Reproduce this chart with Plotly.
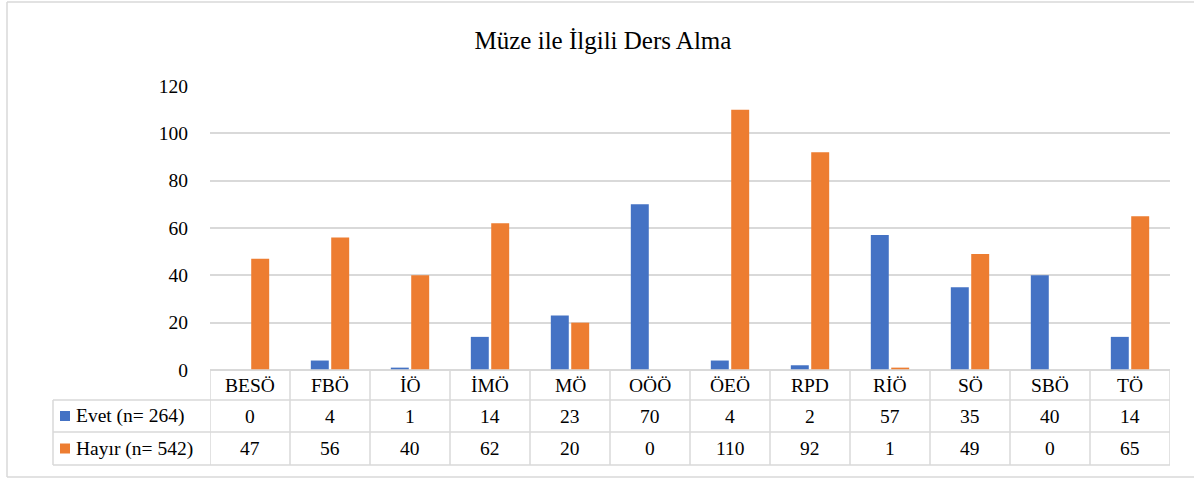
import plotly.graph_objects as go

title = "Müze ile İlgili Ders Alma"
categories = ["BESÖ", "FBÖ", "İÖ", "İMÖ", "MÖ", "OÖÖ", "ÖEÖ", "RPD", "RİÖ", "SÖ", "SBÖ", "TÖ"]
series_names = ["Evet (n= 264)", "Hayır (n= 542)"]
evet = [0, 4, 1, 14, 23, 70, 4, 2, 57, 35, 40, 14]
hayir = [47, 56, 40, 62, 20, 0, 110, 92, 1, 49, 0, 65]
y_ticks = [0, 20, 40, 60, 80, 100, 120]

colors = ["#4472C4", "#ED7D31"]
FONT = "Liberation Serif, Times New Roman, serif"
GRID = "#d9d9d9"

W, H = 1194, 478
L, R, T, B = 210, 1170, 86, 370


def px(xp):
    return (xp - L) / (R - L)


def py(yp):
    return (B - yp) / (B - T)


fig = go.Figure()
for name, vals, c in zip(series_names, [evet, hayir], colors):
    fig.add_trace(go.Bar(x=categories, y=vals, name=name, marker_color=c,
                         marker_line_width=0, showlegend=False))

shapes = []
annotations = []

row_edges = [370, 400, 432, 465]
row_centers = [(row_edges[i] + row_edges[i + 1]) / 2 for i in range(3)]
line = dict(color=GRID, width=1.5)

shapes.append(dict(type="line", xref="paper", yref="paper", x0=0, x1=1,
                   y0=py(370), y1=py(370), line=line))
for ye in row_edges[1:]:
    shapes.append(dict(type="line", xref="paper", yref="paper", x0=px(53), x1=1,
                       y0=py(ye), y1=py(ye), line=line))
n = len(categories)
for i in range(n + 1):
    shapes.append(dict(type="line", xref="x", yref="paper", x0=i - 0.5, x1=i - 0.5,
                       y0=py(370), y1=py(465), line=line))
shapes.append(dict(type="line", xref="paper", yref="paper", x0=px(53), x1=px(53),
                   y0=py(400), y1=py(465), line=line))

# chart border (left, top, bottom; right edge lies outside the picture)
for (x0, y0, x1, y1) in [(7, 2, 1300, 2), (7, 477, 1300, 477), (7, 2, 7, 477)]:
    shapes.append(dict(type="line", xref="paper", yref="paper", x0=px(x0), x1=px(x1),
                       y0=py(y0), y1=py(y1), line=dict(color=GRID, width=1.5)))

tfont = dict(family=FONT, size=19.5, color="#000000")
for cat in categories:
    annotations.append(dict(x=cat, xref="x", y=py(row_centers[0]), yref="paper",
                            text=cat, showarrow=False, font=tfont,
                            xanchor="center", yanchor="middle"))
for r, (name, vals, c) in enumerate(zip(series_names, [evet, hayir], colors)):
    yc = row_centers[r + 1]
    shapes.append(dict(type="rect", xref="paper", yref="paper", x0=px(60), x1=px(70),
                       y0=py(yc - 5), y1=py(yc + 5), fillcolor=c, line_width=0))
    annotations.append(dict(x=px(74), xref="paper", y=py(yc), yref="paper",
                            text=name, showarrow=False, font=tfont,
                            xanchor="left", yanchor="middle"))
    for cat, v in zip(categories, vals):
        annotations.append(dict(x=cat, xref="x", y=py(yc), yref="paper",
                                text=str(v), showarrow=False, font=tfont,
                                xanchor="center", yanchor="middle"))

fig.update_layout(
    width=W, height=H,
    margin=dict(l=L, r=W - R, t=T, b=H - B, pad=0),
    paper_bgcolor="white", plot_bgcolor="white",
    title=dict(text=title, x=0.505, xanchor="center", y=1 - 40 / H, yanchor="middle",
               font=dict(family=FONT, size=25, color="#000000")),
    barmode="group", bargap=0.49, bargroupgap=0.12,
    xaxis=dict(showticklabels=False, showgrid=False, showline=False, zeroline=False,
               range=[-0.5, n - 0.5], fixedrange=True),
    yaxis=dict(range=[0, 120], tickvals=y_ticks, showgrid=True, gridcolor=GRID,
               gridwidth=1.5, zeroline=True, zerolinecolor=GRID, zerolinewidth=1.5,
               showline=False, ticks="outside", ticklen=17,
               tickcolor="rgba(0,0,0,0)",
               tickfont=dict(family=FONT, size=19.5, color="#000000")),
    shapes=shapes, annotations=annotations,
)

fig.write_html("out.html", config={"displayModeBar": False},
               post_script="document.body.style.margin='0';")
